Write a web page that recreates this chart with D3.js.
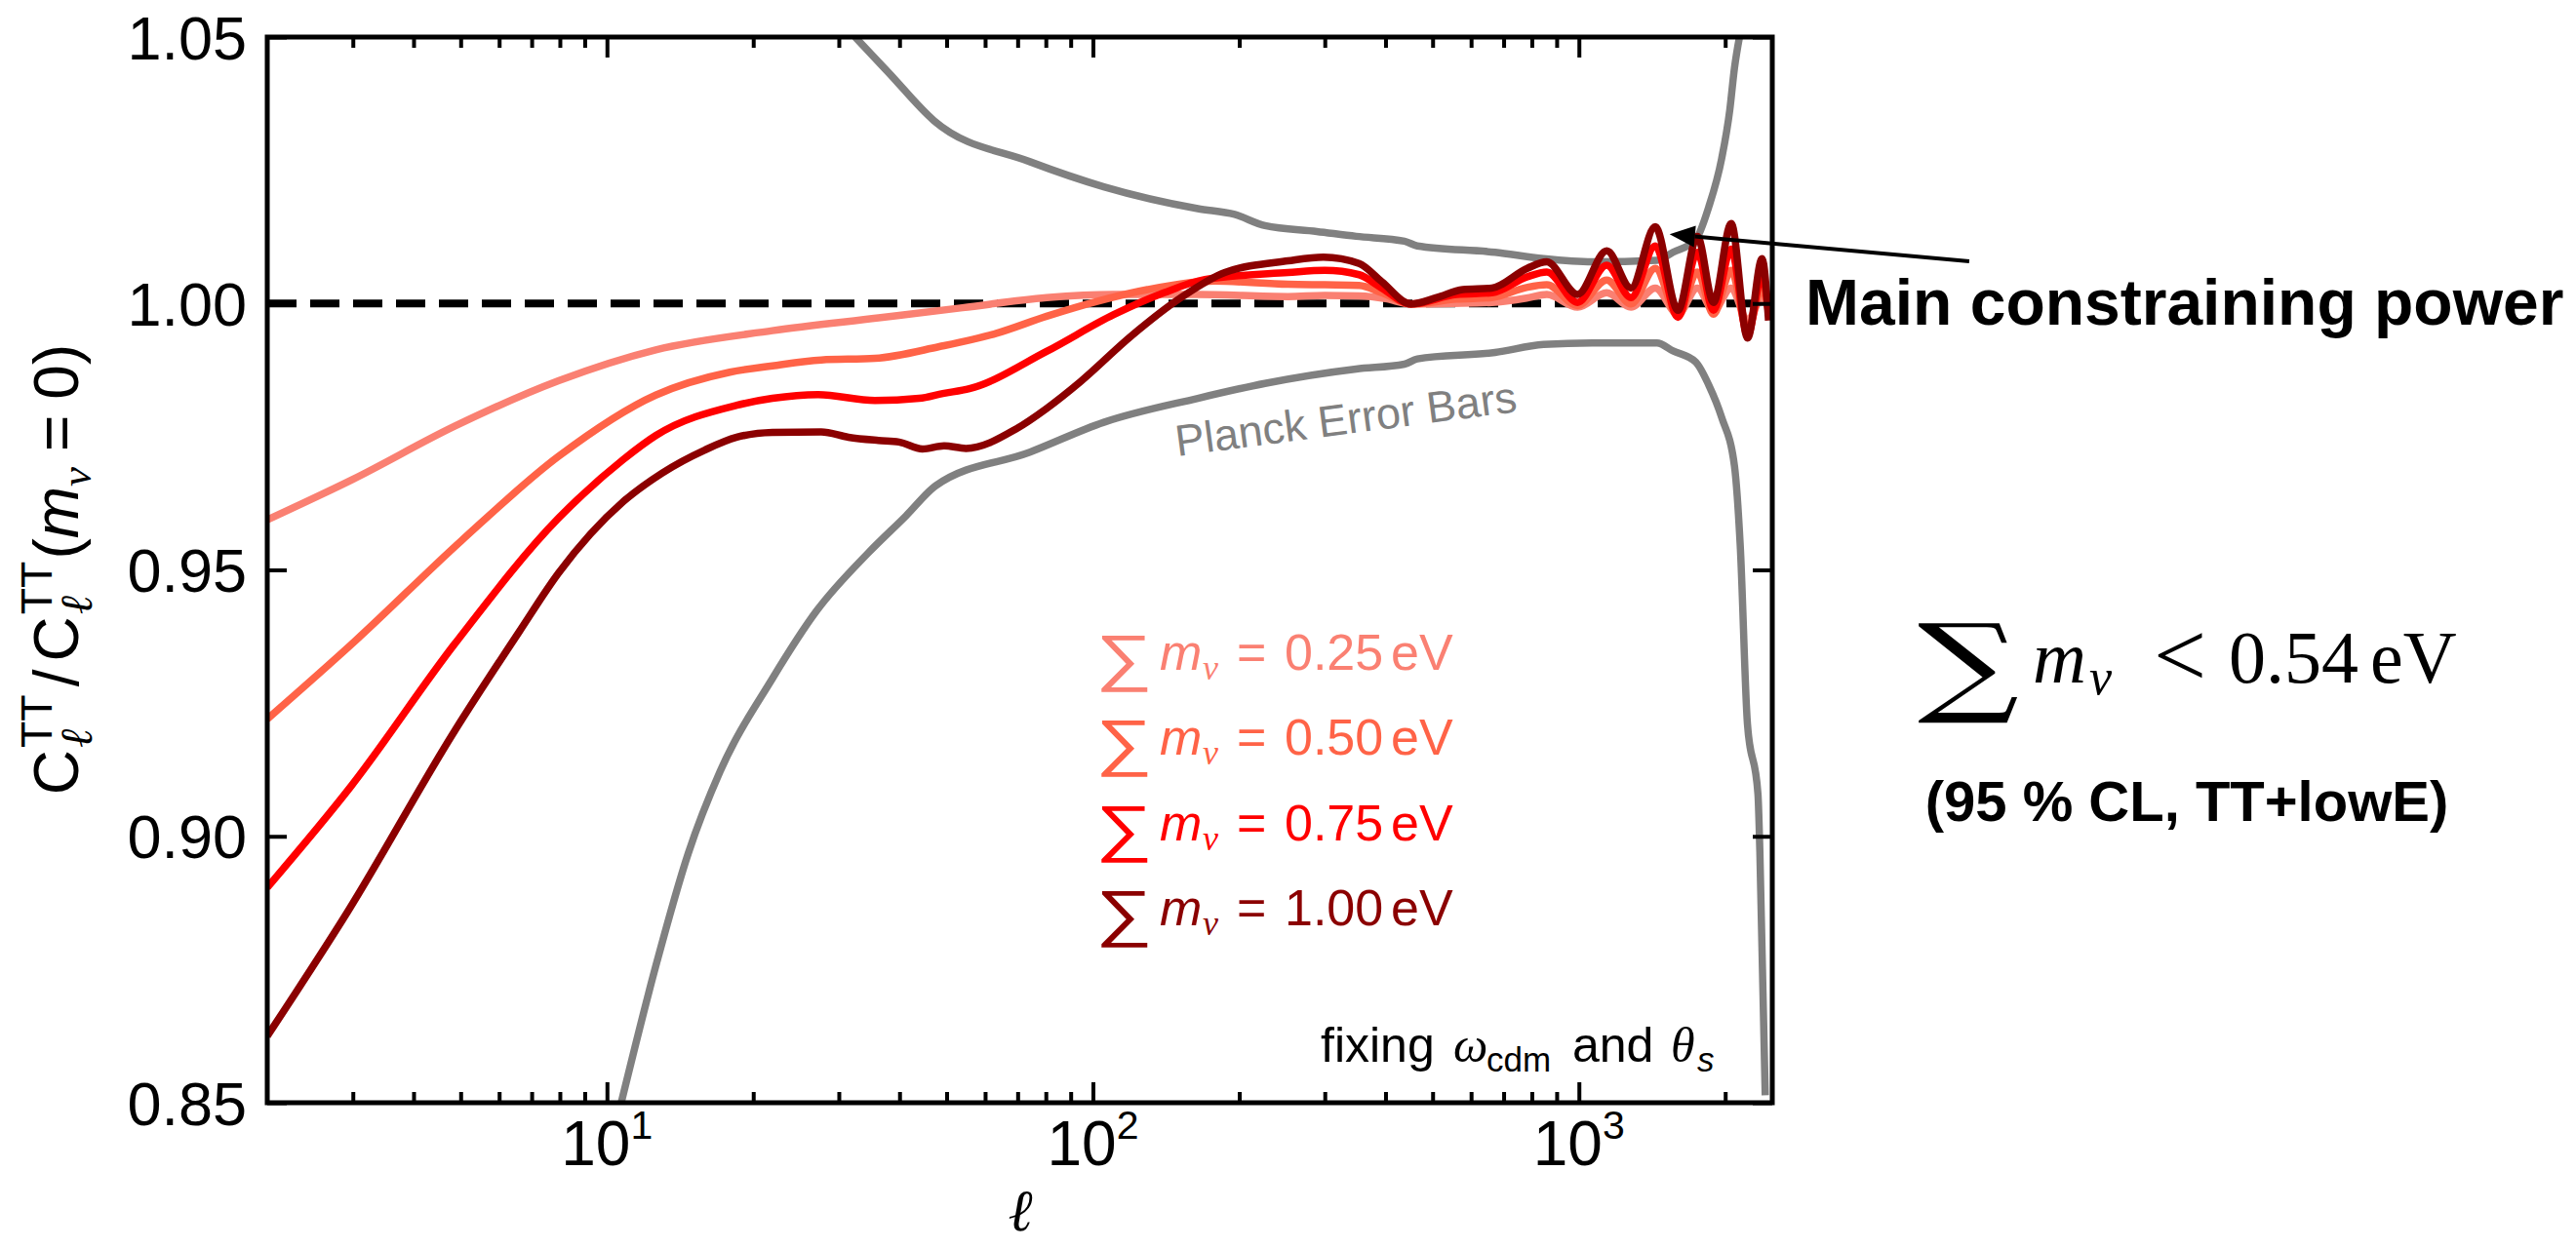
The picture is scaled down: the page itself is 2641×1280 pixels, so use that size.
<!DOCTYPE html>
<html><head><meta charset="utf-8">
<script src="https://cdn.jsdelivr.net/npm/d3@7"></script>
<style>html,body{margin:0;padding:0;background:#fff;} svg{display:block;}</style>
</head><body>
<svg id="chart" width="2641" height="1280"></svg>
<script>
// ---------- data: [ell, C_l / C_l(m_nu=0)] ----------
const m025 = [[2,0.9594],[3.0,0.967],[4.87,0.977],[7.95,0.9855],[12.6,0.9913],[21.9,0.9949],[36.2,0.9973],[53.9,0.9992],[80.3,1.0011],[110,1.0017],[164,1.0017],[252,1.0013],[300,1.0015],[353,1.0014],[400,1.0009],[451,0.9999],[550,1.0],[662,1.0002],[780,1.001],[859,1.0017],[994,0.9993],[1141,1.002],[1280,0.9993],[1436,1.0029],[1599,0.998],[1753,1.0029],[1892,0.9987],[2058,1.0029],[2224,0.9968],[2382,1.0011],[2456,0.9993]];
const m050 = [[2,0.922],[3.02,0.9365],[5.02,0.9555],[7.95,0.9713],[12.6,0.9828],[17.9,0.9871],[21.9,0.9883],[27.6,0.9894],[35.6,0.9897],[48.3,0.9919],[63.3,0.9944],[80.3,0.9976],[102,1.0004],[129.5,1.0026],[178,1.0042],[252,1.0036],[300,1.0035],[353,1.0034],[393,1.002],[451,0.9999],[560,1.0008],[662,1.0011],[780,1.003],[859,1.0035],[994,0.9996],[1141,1.0044],[1280,0.9999],[1436,1.0066],[1599,0.9976],[1753,1.0059],[1892,0.998],[2058,1.0062],[2224,0.995],[2382,1.0029],[2456,0.9987]];
const m075 = [[2,0.8904],[2.98,0.9095],[4.87,0.9362],[7.95,0.9597],[10.8,0.9707],[12.6,0.9752],[18.5,0.9809],[21.9,0.9822],[27.2,0.9829],[35.6,0.9818],[43.9,0.9822],[49.1,0.9831],[55.7,0.984],[80.3,0.991],[110.4,0.9979],[140,1.002],[170,1.0045],[252,1.0058],[300,1.0062],[353,1.0054],[393,1.0029],[451,0.9999],[560,1.0017],[662,1.002],[783,1.005],[859,1.0059],[994,1.0002],[1141,1.0072],[1280,1.0011],[1436,1.0108],[1599,0.9974],[1753,1.0096],[1892,0.9987],[2058,1.0102],[2224,0.994],[2382,1.0054],[2456,0.998]];
const m100 = [[2,0.8625],[2.93,0.8859],[4.87,0.9199],[6.61,0.9385],[7.95,0.9494],[10.8,0.9628],[13.0,0.9682],[15.9,0.9725],[18.5,0.9749],[21.9,0.9758],[27.6,0.9759],[31.4,0.9749],[36.2,0.9743],[39.9,0.974],[44.6,0.9727],[49.4,0.9733],[54.8,0.9728],[69.6,0.9765],[80.3,0.9803],[94.2,0.9853],[119.6,0.9938],[151.9,1.0011],[186.8,1.0058],[252,1.008],[298,1.0087],[353,1.0075],[393,1.0041],[451,0.9999],[510,1.0011],[577,1.0026],[662,1.0029],[783,1.0066],[859,1.0078],[994,1.0017],[1141,1.0099],[1280,1.0029],[1436,1.0144],[1599,0.9987],[1753,1.0126],[1892,1.0002],[2058,1.015],[2224,0.9935],[2382,1.0084],[2456,0.9968]];
const planckUpper = [[32.4,1.05],[38,1.0433],[47.1,1.0343],[74.2,1.0266],[105.3,1.0219],[164.4,1.0178],[195.8,1.0167],[226,1.0146],[289,1.0135],[348,1.0126],[437.6,1.0117],[465,1.0108],[672,1.0096],[846,1.0084],[1065,1.0078],[1447,1.0081],[1562,1.0096],[1740,1.012],[1850,1.0181],[1967,1.0272],[2044,1.0363],[2090,1.0442],[2140,1.05]];
const planckLower = [[10.7,0.85],[12.6,0.8756],[14.7,0.8968],[17.1,0.9122],[21.9,0.9296],[27.0,0.9423],[34.5,0.9532],[41.2,0.9601],[47.5,0.9658],[74.2,0.9721],[105.3,0.9777],[164.4,0.9822],[226,0.985],[348,0.9877],[437.6,0.9886],[465,0.9896],[672,0.9908],[846,0.9923],[1065,0.9926],[1447,0.9926],[1562,0.9911],[1740,0.989],[1850,0.9847],[1967,0.9786],[2090,0.9695],[2148,0.9545],[2222,0.9212],[2336,0.9079],[2357,0.8973],[2418,0.8514]];
const massLabels = ["0.25","0.50","0.75","1.00"];
const seriesColors = ["#FA8072","#FF6347","#FF0000","#8B0000"];
const yTicks = [0.85,0.90,0.95,1.00,1.05];
const xMajorTicks = [10,100,1000];
const xTickExp = ["1","2","3"];
const xMinorTicks = [3,4,5,6,7,8,9,20,30,40,50,60,70,80,90,200,300,400,500,600,700,800,900,2000];
const arrowTip = [1537,1.013];
const arrowTail = [6357,1.0079];

// ---------- setup ----------
const svg = d3.select("#chart");
const L=274,R=1817,T=38,B=1131;
const x = d3.scaleLog().domain([2,2500]).range([L,R]);
const y = d3.scaleLinear().domain([0.85,1.05]).range([B,T]);
const SANS = "'Liberation Sans', Arial, Helvetica, sans-serif";
const SERIF = "'Liberation Serif', 'DejaVu Serif', serif";

svg.append("defs").append("clipPath").attr("id","plotclip")
  .append("rect").attr("x",L).attr("y",T).attr("width",R-L).attr("height",B-T);
const plot = svg.append("g").attr("clip-path","url(#plotclip)");

// reference line
plot.append("line").attr("x1",L).attr("x2",R).attr("y1",y(1)).attr("y2",y(1))
  .attr("stroke","#000").attr("stroke-width",8).attr("stroke-dasharray","30,14");

const line = d3.line().x(d=>x(d[0])).y(d=>y(d[1])).curve(d3.curveMonotoneX);
[planckUpper, planckLower].forEach(s=>{
  plot.append("path").attr("d",line(s)).attr("fill","none")
    .attr("stroke","#808080").attr("stroke-width",7.5).attr("stroke-linejoin","round");
});
[m025,m050,m075,m100].forEach((s,i)=>{
  plot.append("path").attr("d",line(s)).attr("fill","none")
    .attr("stroke",seriesColors[i]).attr("stroke-width",7.5).attr("stroke-linejoin","round");
});

// ---------- axes ----------
function styleAxis(g){ g.select(".domain").remove(); g.selectAll(".tick line").attr("stroke","#000").attr("stroke-width",4); }
svg.append("g").attr("transform",`translate(0,${B})`)
  .call(d3.axisBottom(x).tickValues(xMinorTicks).tickSize(-11).tickFormat("")).call(styleAxis);
svg.append("g").attr("transform",`translate(0,${B})`)
  .call(d3.axisBottom(x).tickValues(xMajorTicks).tickSize(-21).tickFormat("")).call(styleAxis);
svg.append("g").attr("transform",`translate(0,${T})`)
  .call(d3.axisTop(x).tickValues(xMinorTicks).tickSize(-11).tickFormat("")).call(styleAxis);
svg.append("g").attr("transform",`translate(0,${T})`)
  .call(d3.axisTop(x).tickValues(xMajorTicks).tickSize(-21).tickFormat("")).call(styleAxis);
const yl = svg.append("g").attr("transform",`translate(${L},0)`)
  .call(d3.axisLeft(y).tickValues(yTicks).tickSize(-20).tickPadding(21).tickFormat(d3.format(".2f")));
styleAxis(yl);
yl.selectAll(".tick text").attr("font-family",SANS).attr("font-size",63).attr("fill","#000").attr("dy","0.35em");
svg.append("g").attr("transform",`translate(${R},0)`)
  .call(d3.axisRight(y).tickValues(yTicks).tickSize(-20).tickFormat("")).call(styleAxis);

// x tick labels 10^n
xMajorTicks.forEach((v,i)=>{
  const t = svg.append("text").attr("x",x(v)).attr("y",1195).attr("text-anchor","middle")
    .attr("font-family",SANS).attr("fill","#000");
  t.append("tspan").attr("font-size",64).text("10");
  t.append("tspan").attr("font-size",41).attr("dy",-27).text(xTickExp[i]);
});

// frame
svg.append("rect").attr("x",L).attr("y",T).attr("width",R-L).attr("height",B-T)
  .attr("fill","none").attr("stroke","#000").attr("stroke-width",5);

// ---------- rich text helper ----------
function rich(parent, pieces){
  const g = parent.append("g");
  let xPos=0, prevStart=0, prevW=0;
  pieces.forEach(p=>{
    const el = g.append("text").text(p.t).attr("font-size",p.size)
      .attr("font-family",p.family||SANS).attr("font-style",p.style||"normal")
      .attr("font-weight",p.weight||"normal").attr("fill",p.fill||"#000").attr("y",p.shift||0);
    const w = el.node().getComputedTextLength();
    let start;
    if(p.stack){ start=prevStart; const end=Math.max(prevStart+prevW,start+w); xPos=end; prevW=end-prevStart; }
    else { start=xPos+(p.dx||0); xPos=start+w; prevStart=start; prevW=w; }
    el.attr("x",start);
  });
  return {g, width:xPos};
}

// y axis label
{
  const F=64;
  const outer = svg.append("g").attr("transform","translate(80,584) rotate(-90)");
  const r = rich(outer,[
    {t:"C",size:F},
    {t:"TT",size:F*0.7,shift:-F*0.42,dx:2},
    {t:"\u2113",size:F*0.72,shift:F*0.22,family:SERIF,style:"italic",stack:true},
    {t:"/",size:F,dx:8},
    {t:"C",size:F,dx:8},
    {t:"TT",size:F*0.7,shift:-F*0.42,dx:2},
    {t:"\u2113",size:F*0.72,shift:F*0.22,family:SERIF,style:"italic",stack:true},
    {t:"(",size:F,dx:2},
    {t:"m",size:F,style:"italic"},
    {t:"\u03BD",size:F*0.7,style:"italic",family:SERIF,shift:F*0.2},
    {t:"=",size:F,dx:16},
    {t:"0",size:F,dx:16},
    {t:")",size:F}
  ]);
  r.g.attr("transform",`translate(${-r.width/2},0)`);
}

// x axis label
svg.append("text").attr("x",1046).attr("y",1262).attr("text-anchor","middle")
  .attr("font-family",SERIF).attr("font-style","italic").attr("font-size",60).text("\u2113");

// legend (mass labels)
massLabels.forEach((lab,i)=>{
  const by = 687 + i*87.4, c = seriesColors[i];
  const mk = (xx,t,size,extra)=>{ const e=svg.append("text").attr("x",xx).attr("y",by+((extra&&extra.shift)||0))
      .attr("font-family",(extra&&extra.family)||SANS).attr("font-style",(extra&&extra.style)||"normal")
      .attr("font-weight",(extra&&extra.weight)||"normal")
      .attr("font-size",size).attr("fill",c).text(t); return e; };
  mk(0,"\u2211",64,{shift:9,family:"'DejaVu Sans', sans-serif",weight:200})
    .attr("transform",`translate(1123,0) scale(1.28,1)`);
  mk(1189,"m",52,{style:"italic"});
  mk(1233,"\u03BD",36,{style:"italic",family:SERIF,shift:10});
  mk(1268,"=",52);
  mk(1317,lab,52);
  mk(1426,"eV",52);
});

// fixing omega_cdm and theta_s
{
  const by=1089;
  const mk=(xx,t,size,o)=>svg.append("text").attr("x",xx).attr("y",by+((o&&o.shift)||0))
    .attr("font-family",(o&&o.family)||SANS).attr("font-style",(o&&o.style)||"normal")
    .attr("font-size",size).attr("fill","#000").text(t);
  mk(1354,"fixing",50);
  mk(1490,"\u03C9",50,{family:SERIF,style:"italic"});
  mk(1524,"cdm",35,{shift:10});
  mk(1612,"and",50);
  mk(1713,"\u03B8",50,{family:SERIF,style:"italic"});
  mk(1740,"s",35,{style:"italic",shift:10});
}

// Planck Error Bars label
svg.append("text").attr("transform","translate(1207,468) rotate(-7.5)")
  .attr("font-family",SANS).attr("font-size",45).attr("fill","#808080").text("Planck Error Bars");

// arrow annotation
{
  const tx=x(arrowTip[0]), ty=y(arrowTip[1]), sx=x(arrowTail[0]), sy=y(arrowTail[1]);
  const ang=Math.atan2(ty-sy,tx-sx), hl=26, hw=11;
  const bx=tx-hl*Math.cos(ang), by=ty-hl*Math.sin(ang);
  svg.append("line").attr("x1",sx).attr("y1",sy).attr("x2",bx).attr("y2",by)
    .attr("stroke","#000").attr("stroke-width",4);
  const px=-Math.sin(ang), py=Math.cos(ang);
  svg.append("path").attr("d",`M${tx},${ty}L${bx+hw*px},${by+hw*py}L${bx-hw*px},${by-hw*py}Z`).attr("fill","#000");
}
svg.append("text").attr("x",1851).attr("y",333).attr("font-family",SANS).attr("font-weight","bold")
  .attr("font-size",66).attr("fill","#000").text("Main constraining power");

// bound text
{
  const by=700;
  const mk=(xx,t,size,o)=>svg.append("text").attr("x",xx).attr("y",by+((o&&o.shift)||0))
    .attr("font-family",(o&&o.family)||SERIF).attr("font-style",(o&&o.style)||"normal")
    .attr("font-size",size).attr("fill","#000").text(t);
  mk(0,"\u2211",112,{family:"'DejaVu Serif', serif",shift:20})
    .attr("transform","translate(1966,0) scale(1.3,1)");
  mk(2084,"m",76,{style:"italic"});
  mk(2142,"\u03BD",52,{style:"italic",shift:12});
  mk(2208,"<",96,{shift:4});
  mk(2285,"0.54",76);
  mk(2430,"eV",76);
}
svg.append("text").attr("x",2242).attr("y",842).attr("text-anchor","middle").attr("font-family",SANS)
  .attr("font-weight","bold").attr("font-size",58).attr("fill","#000").text("(95 % CL, TT+lowE)");
</script>
</body></html>
